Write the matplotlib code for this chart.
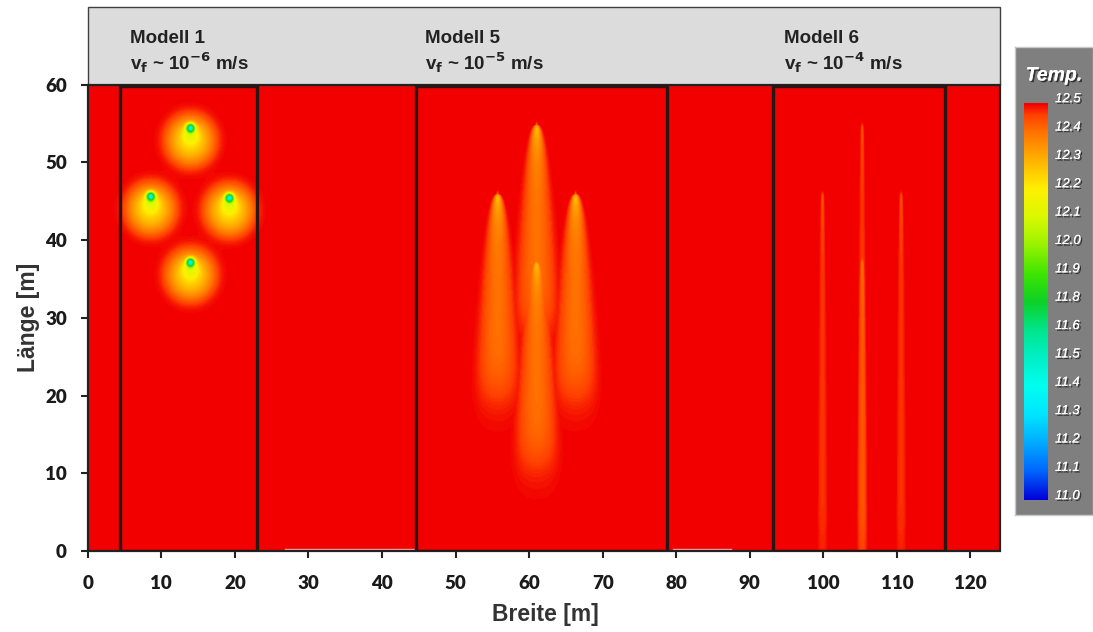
import numpy as np
import matplotlib
matplotlib.use("Agg")
import matplotlib.pyplot as plt
from matplotlib.colors import LinearSegmentedColormap
from matplotlib.patches import Rectangle
import matplotlib.patheffects as pe

# ---------------- data ----------------
cb_labels = ["12.5", "12.4", "12.3", "12.2", "12.1", "12.0", "11.9", "11.8",
             "11.6", "11.5", "11.4", "11.3", "11.2", "11.1", "11.0"]
cb_values = [12.5, 12.4, 12.3, 12.2, 12.1, 12.0, 11.9, 11.8,
             11.6, 11.5, 11.4, 11.3, 11.2, 11.1, 11.0]
T_background = 12.5

model_titles = ["Modell 1", "Modell 5", "Modell 6"]
model_exponents = ["-6", "-5", "-4"]
model_title_x = [5.7, 45.9, 94.6]
model_boxes = [(4.4, 23.0), (44.6, 78.8), (93.1, 116.5)]

# well positions (x [m], y [m]) per model
wells_m1_x = [13.9, 8.5, 19.2, 13.9]
wells_m1_y = [54.4, 45.6, 45.4, 37.1]
wells_m5_x = [55.7, 61.0, 66.3, 61.0]
wells_m5_y = [45.9, 54.8, 45.9, 37.2]
wells_m6_x = [99.9, 105.3, 110.6, 105.3]
wells_m6_y = [46.0, 54.8, 46.0, 37.4]

x_ticks = list(range(0, 121, 10))
y_ticks = list(range(0, 61, 10))

# ---------------- field ----------------
x = np.linspace(0, 124, 1241)
y = np.linspace(0, 60, 601)
X, Y = np.meshgrid(x, y)


def sig(z):
    return 1.0 / (1.0 + np.exp(-z))


def plume(x0, y0, length, hw, tip_drop, body_drop, tip_len, soft=0.5, tail=0.05):
    s = y0 - Y
    sp = np.clip(s, 0, None)
    w = 0.15 + hw * np.sqrt(sp / length)
    u = (X - x0) / w
    env = soft * np.exp(-(u / 0.75) ** 2) + (1 - soft) * np.exp(-u ** 4)
    env *= sig((length - s) / (tail * length)) * sig(s / 0.15)
    amp = body_drop + (tip_drop - body_drop) * np.exp(-sp / tip_len)
    return amp * env


dT = np.zeros_like(X)
# Modell 1: radial spots
for x0, y0 in zip(wells_m1_x, wells_m1_y):
    r_disk = np.hypot(X - x0, Y - (y0 - 1.6))
    r_mid = np.hypot(X - x0, Y - (y0 - 0.9))
    r_core = np.hypot(X - x0, Y - y0)
    dT += (0.13 * np.exp(-(r_disk / 3.4) ** 4)
           + 0.14 * np.exp(-(r_disk / 2.6) ** 2)
           + 0.12 * np.exp(-(r_mid / 1.1) ** 2)
           + 0.9 * np.exp(-(r_core / 0.5) ** 2))
# Modell 5: broad plumes
m5 = np.zeros_like(X)
for x0, y0 in zip(wells_m5_x, wells_m5_y):
    m5 = np.maximum(m5, plume(x0, y0, 25.5, 2.8, 0.24, 0.1, 3.0, tail=0.07))
dT += m5
# Modell 6: thin streaks
for x0, y0 in zip(wells_m6_x, wells_m6_y):
    dT += plume(x0, y0, y0 + 1.0, 0.5, 0.07, 0.035, 4.0, soft=0.3)

T = T_background - dT
vals_sorted = np.array(cb_values[::-1])
pos_sorted = np.linspace(0, 1, len(cb_values))
F = np.interp(T, vals_sorted, pos_sorted)

cmap_nodes = [
    (0 / 14, (0.00, 0.00, 0.85)), (1 / 14, (0.00, 0.40, 1.00)),
    (2 / 14, (0.00, 0.67, 1.00)), (3 / 14, (0.00, 0.90, 1.00)),
    (4 / 14, (0.00, 1.00, 0.94)), (5 / 14, (0.00, 0.94, 0.78)),
    (6 / 14, (0.00, 0.90, 0.55)), (7 / 14, (0.05, 0.82, 0.15)),
    (8 / 14, (0.25, 0.90, 0.00)), (9 / 14, (0.60, 0.95, 0.00)),
    (10 / 14, (0.86, 0.98, 0.00)), (11 / 14, (1.00, 0.94, 0.00)),
    (12 / 14, (1.00, 0.70, 0.00)), (13 / 14, (1.00, 0.45, 0.00)),
    (13.6 / 14, (1.00, 0.25, 0.00)),
    (14 / 14, (0.95, 0.00, 0.00)),
]
cmap = LinearSegmentedColormap.from_list("temp", cmap_nodes)

# ---------------- figure ----------------
fig = plt.figure(figsize=(10.93, 6.32), dpi=100)
ax = fig.add_axes([87.8 / 1093, 1 - 551 / 632, 912 / 1093, 544 / 632])
ax.set_xlim(0, 124)
ax.set_ylim(0, 70)

ax.imshow(F, origin="lower", extent=(0, 124, 0, 60), cmap=cmap, vmin=0, vmax=1,
          aspect="auto", interpolation="bilinear", zorder=1)

# faint light streaks along the bottom edge
ax.plot([26.8, 44.3], [0.3, 0.3], color="#f4a8a8", lw=1.0, zorder=2)
ax.plot([79.6, 87.5], [0.3, 0.3], color="#f4a8a8", lw=1.0, zorder=2)

# header band
ax.add_patch(Rectangle((0, 60), 124, 10, facecolor="#dcdcdc", edgecolor="#404040",
                       lw=1.0, zorder=3, clip_on=False))
# field frame
ax.add_patch(Rectangle((0, 0), 124, 60, facecolor="none", edgecolor="#222222",
                       lw=1.6, zorder=4, clip_on=False))
# model boxes
for (x0, x1) in model_boxes:
    ax.add_patch(Rectangle((x0, 0), x1 - x0, 59.8, facecolor="none",
                           edgecolor="#2a1515", lw=2.4, zorder=4))

for xt, title, ex in zip(model_title_x, model_titles, model_exponents):
    ax.text(xt, 66.0, title, fontsize=13.5, fontweight="bold", family="Liberation Sans",
            color="#222222", va="center", ha="left", zorder=5)
    ax.text(xt, 62.8, r"v$_\mathbf{f}$ ~ 10$^\mathbf{" + ex + r"}$ m/s", fontsize=13.5,
            fontweight="bold", family="Liberation Sans", color="#222222",
            va="center", ha="left", zorder=5)

for sp in ax.spines.values():
    sp.set_visible(False)

ax.set_xticks(x_ticks)
ax.set_yticks(y_ticks)
ax.tick_params(axis="both", direction="out", length=5, width=1.5, color="#222222")
ax.tick_params(axis="x", pad=12)
ax.tick_params(axis="y", pad=10)
for lab in ax.get_xticklabels() + ax.get_yticklabels():
    lab.set_fontfamily("Lato")
    lab.set_fontweight("heavy")
    lab.set_fontsize(13.5)
    lab.set_color("#1a1a1a")

ax.set_xlabel("Breite [m]", fontsize=16.5, fontweight="bold", family="Liberation Sans",
              color="#333333")
ax.xaxis.set_label_coords(0.502, -0.095)
ax.set_ylabel("Länge [m]", fontsize=16.5, fontweight="bold", family="Liberation Sans",
              color="#333333")
ax.yaxis.set_label_coords(-0.052, 30 / 70)

# ---------------- colour bar panel ----------------
panel = fig.add_axes([1015 / 1093, 1 - 515 / 632, 78 / 1093, 468 / 632])
panel.set_xlim(0, 1)
panel.set_ylim(0, 1)
panel.set_facecolor("#7f7f7f")
for sp in panel.spines.values():
    sp.set_color("#c8c8c8")
    sp.set_linewidth(1.0)
panel.set_xticks([])
panel.set_yticks([])

cax = fig.add_axes([1024 / 1093, 1 - 500 / 632, 24 / 1093, 397 / 632])
grad = np.linspace(0, 1, 256).reshape(-1, 1)
cax.imshow(grad, origin="lower", extent=(0, 1, 0, 1), cmap=cmap, vmin=0, vmax=1,
           aspect="auto")
cax.set_xticks([])
cax.set_yticks([])
for sp in cax.spines.values():
    sp.set_visible(False)

shadow = [pe.withSimplePatchShadow(offset=(1.2, -1.2), shadow_rgbFace="#202020", alpha=0.8),
          pe.Normal()]
n = len(cb_labels)
for i, lab in enumerate(cb_labels):
    frac = 1 - i / (n - 1)
    yfig = (1 - 500 / 632) + frac * (397 / 632) + 0.006
    fig.text(1055 / 1093, yfig, lab, fontsize=9.5, style="italic", family="Liberation Sans",
             color="white", va="center", ha="left", path_effects=shadow)

fig.text(1054 / 1093, 1 - 76 / 632, "Temp.", fontsize=14, style="italic", fontweight="bold",
         family="Liberation Sans", color="white", va="center", ha="center",
         path_effects=shadow)

fig.savefig("out.png", dpi=100)
